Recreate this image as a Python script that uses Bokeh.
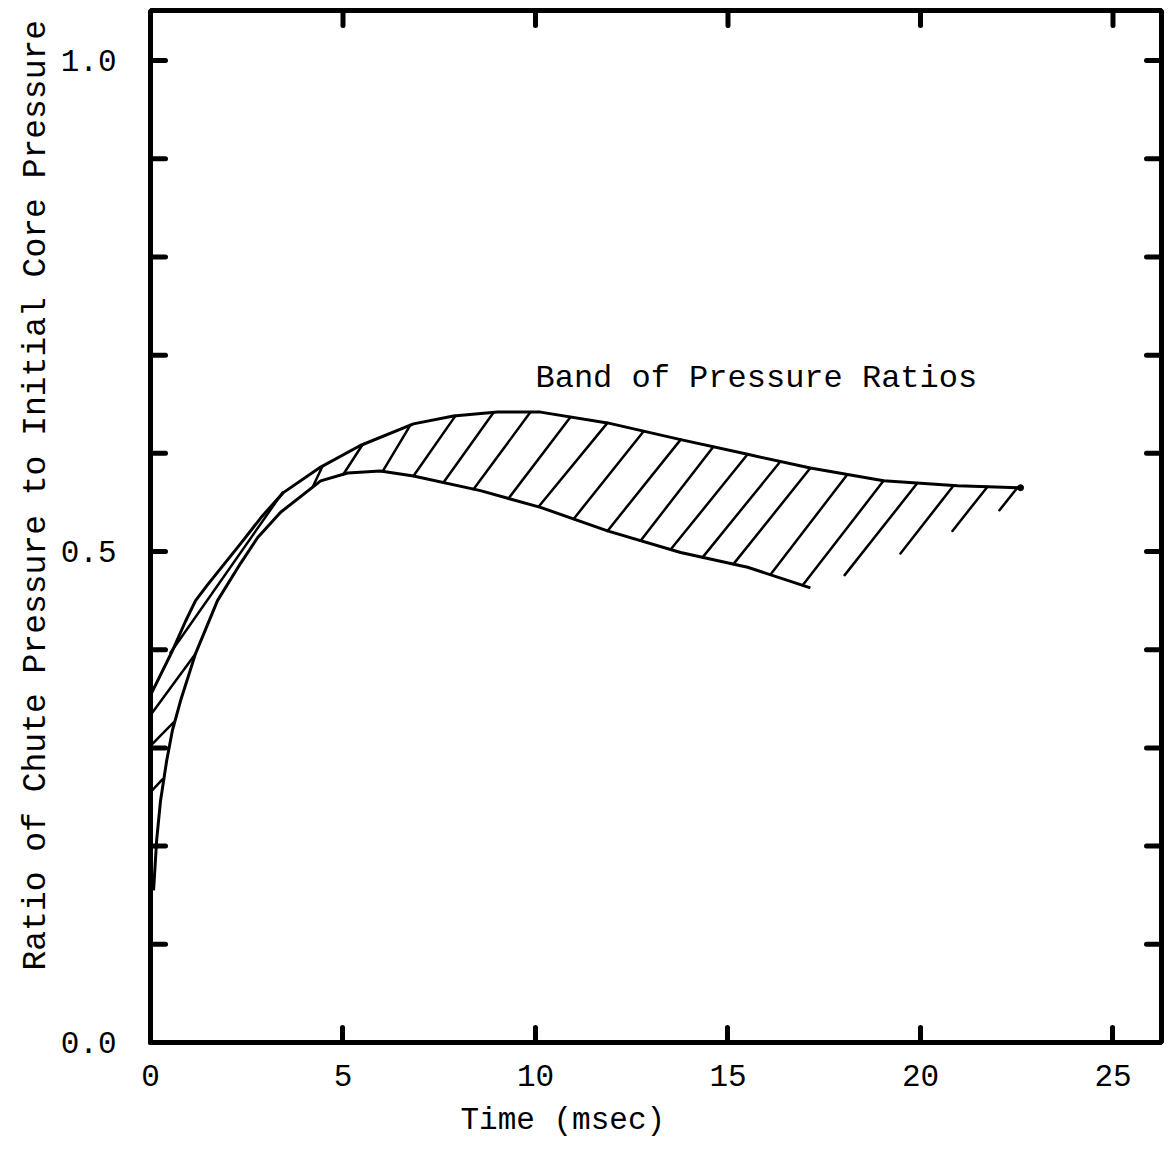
import numpy as np
from bokeh.plotting import figure
from bokeh.models import Range1d, FixedTicker, Title, ColumnDataSource
from bokeh.core.properties import value
from bokeh.embed import file_html
from bokeh.resources import INLINE

FONT = "Liberation Mono"

# ---- data ----
x_tick_values = [0, 5, 10, 15, 20, 25]
x_tick_labels = ["0", "5", "10", "15", "20", "25"]
y_label_values = [0.0, 0.5, 1.0]
y_tick_labels = ["0.0", "0.5", "1.0"]
y_tick_values = [0.1, 0.2, 0.3, 0.4, 0.5, 0.6, 0.7, 0.8, 0.9, 1.0]
top_tick_values = [5, 10, 15, 20, 25]

upper_t = [0.03, 0.57, 0.91, 1.17, 1.48, 2.34, 2.90, 3.45, 4.42, 5.45, 6.83, 7.87,
           9.01, 10.13, 11.87, 13.77, 15.51, 17.14, 19.04, 20.96, 22.60]
upper_y = [0.356, 0.399, 0.429, 0.450, 0.466, 0.508, 0.536, 0.560, 0.586, 0.608,
           0.630, 0.638, 0.642, 0.642, 0.631, 0.614, 0.599, 0.585, 0.572, 0.567, 0.565]

lower_t = [0.08, 0.16, 0.26, 0.42, 0.57, 0.78, 1.17, 1.74, 2.34, 2.78, 3.38, 4.42,
           5.12, 5.97, 6.83, 8.57, 10.13, 11.87, 13.77, 15.51, 17.14]
lower_y = [0.155, 0.206, 0.246, 0.287, 0.318, 0.348, 0.396, 0.450, 0.488, 0.514,
           0.540, 0.572, 0.580, 0.582, 0.577, 0.562, 0.545, 0.521, 0.499, 0.484, 0.463]

# hatch lines running from the lower curve up to the upper curve
hatch_bottom_t = [4.21, 5.01, 6.03, 6.83, 7.61, 8.39, 9.30, 10.08, 10.99, 11.87,
                  12.73, 13.51, 14.34, 15.14, 16.10, 16.94]
hatch_top_t = [4.47, 5.51, 6.75, 7.92, 8.91, 9.87, 10.91, 11.87, 12.81, 13.77,
               14.62, 15.51, 16.36, 17.14, 18.10, 19.04]

# free-standing hatch lines beyond the end of the lower curve
free_bottom_t = [18.03, 19.48, 20.83, 22.05]
free_bottom_y = [0.476, 0.498, 0.521, 0.542]
free_top_t = [19.92, 20.86, 21.74, 22.52]

# hatch lines near the start of the band
left_x0 = [0.05, 0.05, 0.05, 0.52]
left_y0 = [0.257, 0.304, 0.336, 0.397]
left_x1 = [0.31, 0.60, 1.17, 3.43]
left_y1 = [0.268, 0.326, 0.396, 0.560]

band_label = "Band of Pressure Ratios"
band_label_x = [10.0]
band_label_y = [0.676]

# ---- layout ----
W, H = 1164, 1150
BL, BR, BT, BB = 150, 3, 10, 108
X_END, Y_END = 26.26, 1.051
TICK_PX = 15
frame_w = W - BL - BR
frame_h = H - BT - BB
dx = TICK_PX * X_END / frame_w
dy = TICK_PX * Y_END / frame_h

# ---- build hatch segments ----
hb_y = np.interp(hatch_bottom_t, lower_t, lower_y)
ht_y = np.interp(hatch_top_t, upper_t, upper_y)
ft_y = np.interp(free_top_t, upper_t, upper_y)

seg_x0 = list(hatch_bottom_t) + list(free_bottom_t) + list(left_x0)
seg_y0 = list(hb_y) + list(free_bottom_y) + list(left_y0)
seg_x1 = list(hatch_top_t) + list(free_top_t) + list(left_x1)
seg_y1 = list(ht_y) + list(ft_y) + list(left_y1)

# ---- inward tick marks on left (unlabelled), right and top edges ----
left_only = [v for v in y_tick_values if v not in y_label_values]
tk_x0 = [0.0] * len(left_only) + [X_END] * len(y_tick_values) + list(top_tick_values)
tk_x1 = [dx] * len(left_only) + [X_END - dx] * len(y_tick_values) + list(top_tick_values)
tk_y0 = list(left_only) + list(y_tick_values) + [Y_END] * len(top_tick_values)
tk_y1 = list(left_only) + list(y_tick_values) + [Y_END - dy] * len(top_tick_values)

p = figure(width=W, height=H, output_backend="svg", toolbar_location=None,
           x_range=Range1d(0, X_END), y_range=Range1d(0, Y_END),
           min_border_left=BL, min_border_right=BR, min_border_top=BT,
           min_border_bottom=BB)
p.xgrid.visible = False
p.ygrid.visible = False
p.outline_line_color = "black"
p.outline_line_width = 5
p.background_fill_color = "white"
p.border_fill_color = "white"


def style_axis(ax):
    ax.axis_line_color = None
    ax.major_tick_in = TICK_PX
    ax.major_tick_out = 0
    ax.major_tick_line_width = 5
    ax.major_tick_line_cap = "round"
    ax.major_tick_line_color = "black"
    ax.minor_tick_line_color = None
    ax.major_label_text_font = FONT
    ax.major_label_text_font_size = "31px"
    ax.major_label_text_color = "black"


xa = p.xaxis[0]
style_axis(xa)
xa.ticker = FixedTicker(ticks=x_tick_values)
xa.major_label_overrides = {v: s for v, s in zip(x_tick_values, x_tick_labels)}
xa.major_label_standoff = 22

ya = p.yaxis[0]
style_axis(ya)
ya.ticker = FixedTicker(ticks=y_label_values)
ya.major_label_overrides = {v: s for v, s in zip(y_label_values, y_tick_labels)}
ya.major_label_standoff = 34

yt = Title(text="Ratio of Chute Pressure to Initial Core Pressure",
           align="left", offset=72, text_font=FONT, text_font_size="33px",
           text_font_style="normal", text_color="black", standoff=6)
p.add_layout(yt, "left")

xt = Title(text="Time (msec)", align="left", offset=310,
           text_font=FONT, text_font_size="31px", text_font_style="normal",
           text_color="black", standoff=24)
p.add_layout(xt, "below")

p.segment(x0=tk_x0, y0=tk_y0, x1=tk_x1, y1=tk_y1, line_color="black",
          line_width=5, line_cap="round")

p.line(upper_t, upper_y, line_color="black", line_width=3, line_join="round")
p.line(lower_t, lower_y, line_color="black", line_width=3, line_join="round")
p.scatter(upper_t[-1:], upper_y[-1:], size=6, color="black")

src = ColumnDataSource(dict(x0=seg_x0, y0=seg_y0, x1=seg_x1, y1=seg_y1))
p.segment(x0="x0", y0="y0", x1="x1", y1="y1", source=src,
          line_color="black", line_width=2.5, line_cap="round")

p.text(x=band_label_x, y=band_label_y, text=[band_label],
       text_font=value(FONT), text_font_size="32px", text_color="black",
       text_align="left", text_baseline="middle")

open("out.html", "w").write(file_html(p, INLINE))
